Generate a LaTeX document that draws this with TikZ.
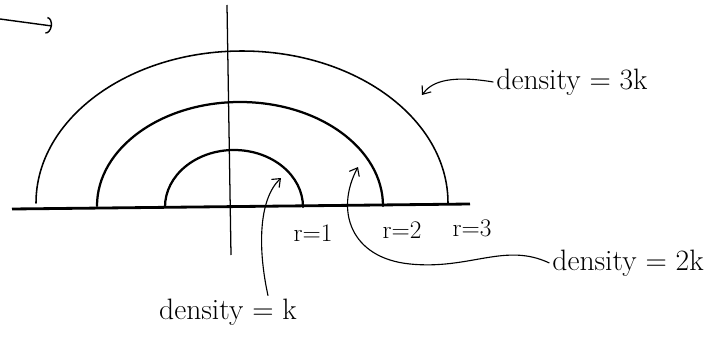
\documentclass[tikz,border=0pt]{standalone}
\usetikzlibrary{arrows.meta}

\begin{document}
\begin{tikzpicture}[x=0.025cm, y=0.025cm,
    ring/.style={line width=1.6pt, line cap=round},
    pointer/.style={line width=0.8pt, -{Straight Barb[length=5pt, width=8pt]}},
    lbl/.style={font=\fontsize{21}{25}\selectfont, inner sep=2pt},
    rlbl/.style={font=\fontsize{18}{21}\selectfont, inner sep=1pt}]
        \useasboundingbox (0,0) rectangle (724,350);

        % === AXIS ===
        \draw[line width=2pt] (12,141) -- (470,146);
        \draw[line width=0.9pt] (227,345) -- (231,95);

        % === HALF RINGS ===
        \draw[ring] (165,143) arc[start angle=180, end angle=0, x radius=69, y radius=57];
        \draw[ring] (97,144) arc[start angle=180, end angle=0, x radius=143, y radius=104];
        \draw[ring, line width=1.1pt] (36,147) arc[start angle=180, end angle=0, x radius=206, y radius=152];

        % === RADIUS LABELS ===
        \node[rlbl] (r1) at (313,117) {r=1};
        \node[rlbl] (r2) at (402,120) {r=2};
        \node[rlbl] (r3) at (472,122) {r=3};

        % === DENSITY LABELS ===
        \node[lbl] (dk) at (228,38) {density = k};
        \node[lbl] (d2k) at (628,87) {density = 2k};
        \node[lbl] (d3k) at (572,268) {density = 3k};

        % === ARROW TIPS ===
        \coordinate (tipk) at (281,172);
        \coordinate (tip2k) at (358,183);
        \coordinate (tip3k) at (422,255);
        \coordinate (start) at (0,331);
        \coordinate (tipin) at (52,324);

        % === POINTERS ===
        \draw[pointer] ([xshift=1cm]dk.north) .. controls (258,100) and (258,150) .. (tipk);
        \draw[pointer] (d2k.west) .. controls (505,108) and (470,80) .. (410,86)
            .. controls (350,92) and (335,140) .. (tip2k);
        \draw[pointer] (d3k.west) .. controls (445,276) and (430,266) .. (tip3k);
        \draw[line width=1pt, -{Arc Barb[length=4pt, width=12pt]}] (start) -- (tipin);

\end{tikzpicture}
\end{document}
